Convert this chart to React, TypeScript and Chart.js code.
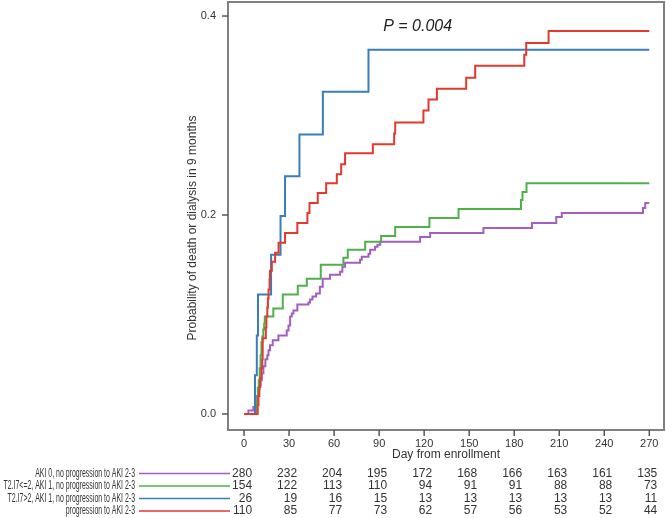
import React, { useEffect, useRef } from "react";
import { Chart, registerables } from "chart.js";
Chart.register(...registerables);

// ---- Data ----
const xTickValues = [0, 30, 60, 90, 120, 150, 180, 210, 240, 270];
const yTickValues = [0, 0.2, 0.4];
const yTickLabels = ["0.0", "0.2", "0.4"];
const xTitle = "Day from enrollment";
const yTitle = "Probability of death or dialysis in 9 months";
const pValueText = "P = 0.004";

const groupLabels = [
  "AKI 0, no progression to AKI 2-3",
  "T2.I7<=2, AKI 1, no progression to AKI 2-3",
  "T2.I7>2, AKI 1, no progression to AKI 2-3",
  "progression to AKI 2-3",
];
const groupColors = ["#a15fc0", "#4fb04b", "#3a7dbd", "#e2392f"];

// number at risk at each x tick
const atRiskAKI0 = [280, 232, 204, 195, 172, 168, 166, 163, 161, 135];
const atRiskLow = [154, 122, 113, 110, 94, 91, 91, 88, 88, 73];
const atRiskHigh = [26, 19, 16, 15, 13, 13, 13, 13, 13, 11];
const atRiskProg = [110, 85, 77, 73, 62, 57, 56, 53, 52, 44];

// step curves: event day / cumulative probability
const aki0Days = [0, 2.9, 6.2, 8, 8.7, 9.5, 10.2, 11, 11.8, 12.9, 14.2, 15.5, 16.3, 17.3, 19.1, 22.9, 28.4, 29.6, 30.7, 31.8, 32.9, 35.5, 42.9, 44, 45.6, 48, 50.5, 52.4, 57.3, 64, 65.5, 67.3, 77.3, 78.4, 82.9, 84, 87.3, 88.9, 90.7, 117.3, 124, 159.5, 191.8, 208, 211.7, 265.8, 267.3, 270];
const aki0Prob = [0, 0.0036, 0.0071, 0.011, 0.018, 0.025, 0.029, 0.034, 0.041, 0.048, 0.055, 0.059, 0.064, 0.069, 0.074, 0.079, 0.084, 0.089, 0.098, 0.101, 0.104, 0.110, 0.112, 0.115, 0.118, 0.121, 0.128, 0.136, 0.140, 0.143, 0.148, 0.152, 0.155, 0.158, 0.161, 0.165, 0.168, 0.170, 0.173, 0.178, 0.182, 0.187, 0.192, 0.198, 0.202, 0.207, 0.212, 0.212];

const lowDays = [0, 8, 8.6, 9.2, 9.8, 10.4, 11, 11.6, 12.2, 12.8, 13.4, 13.8, 19.5, 25.8, 35.8, 41.8, 51.1, 66.2, 69.1, 80.7, 91.3, 100.7, 123.5, 142.9, 184.5, 185.5, 188.2, 270];
const lowProb = [0, 0.0065, 0.013, 0.026, 0.034, 0.046, 0.059, 0.072, 0.078, 0.085, 0.091, 0.098, 0.106, 0.120, 0.129, 0.136, 0.150, 0.157, 0.165, 0.173, 0.179, 0.188, 0.197, 0.206, 0.215, 0.223, 0.232, 0.232];

const highDays = [0, 7.3, 8.5, 9.3, 18, 24.3, 27.3, 36.9, 52.5, 82.9, 270];
const highProb = [0, 0.039, 0.079, 0.120, 0.160, 0.199, 0.239, 0.281, 0.324, 0.366, 0.366];

const progDays = [0, 9.1, 9.6, 10.2, 10.8, 11.5, 12.1, 12.4, 14.5, 14.9, 15.5, 15.9, 16.3, 17, 17.3, 18.5, 20.7, 23, 27.3, 35.5, 42.2, 43.6, 49.1, 54.7, 61.8, 64.7, 67.3, 85.8, 100, 100.7, 119.5, 122.9, 128.5, 148, 154, 186.7, 188, 202.9, 270];
const progProb = [0, 0.009, 0.018, 0.027, 0.036, 0.046, 0.055, 0.076, 0.087, 0.098, 0.107, 0.116, 0.125, 0.135, 0.144, 0.153, 0.162, 0.172, 0.182, 0.192, 0.202, 0.212, 0.222, 0.232, 0.241, 0.251, 0.262, 0.271, 0.282, 0.293, 0.305, 0.316, 0.327, 0.338, 0.350, 0.361, 0.373, 0.385, 0.385];

const seriesDays = [aki0Days, lowDays, highDays, progDays];
const seriesProb = [aki0Prob, lowProb, highProb, progProb];
const atRiskRows = [atRiskAKI0, atRiskLow, atRiskHigh, atRiskProg];

const FONT = "'Liberation Sans', Arial, sans-serif";

const decorPlugin = {
  id: "kmDecor",
  afterDraw(chart: any) {
    const { ctx, chartArea, scales } = chart;
    const xs = scales.x;
    const ys = scales.y;
    ctx.save();
    ctx.strokeStyle = "#808080";
    ctx.lineWidth = 2;
    ctx.strokeRect(chartArea.left, chartArea.top, chartArea.right - chartArea.left, chartArea.bottom - chartArea.top);

    // x ticks
    ctx.lineWidth = 1.5;
    ctx.strokeStyle = "#555";
    ctx.fillStyle = "#333";
    ctx.font = `11px ${FONT}`;
    ctx.textAlign = "center";
    ctx.textBaseline = "middle";
    xTickValues.forEach((v) => {
      const px = xs.getPixelForValue(v);
      ctx.beginPath();
      ctx.moveTo(px, chartArea.bottom);
      ctx.lineTo(px, chartArea.bottom + 6);
      ctx.stroke();
      ctx.fillText(String(v), px, chartArea.bottom + 14);
    });
    // y ticks
    ctx.textAlign = "right";
    yTickValues.forEach((v, i) => {
      const py = ys.getPixelForValue(v);
      ctx.beginPath();
      ctx.moveTo(chartArea.left - 6, py);
      ctx.lineTo(chartArea.left, py);
      ctx.stroke();
      ctx.fillText(yTickLabels[i], chartArea.left - 12, py);
    });
    // titles
    ctx.font = `12px ${FONT}`;
    ctx.fillStyle = "#333";
    ctx.textAlign = "center";
    ctx.fillText(xTitle, (chartArea.left + chartArea.right) / 2, chartArea.bottom + 25);
    ctx.save();
    ctx.translate(193, 228);
    ctx.rotate(-Math.PI / 2);
    ctx.fillText(yTitle, 0, 0);
    ctx.restore();

    // p value
    ctx.font = `italic 16px ${FONT}`;
    ctx.fillStyle = "#222";
    ctx.textAlign = "left";
    ctx.fillText(pValueText, xs.getPixelForValue(92.7), ys.getPixelForValue(0.3899));

    // risk table
    const rowY = [473.5, 486, 498.5, 511];
    atRiskRows.forEach((row, r) => {
      const y = rowY[r];
      ctx.font = `12px ${FONT}`;
      ctx.fillStyle = "#333";
      ctx.textAlign = "right";
      const w = ctx.measureText(groupLabels[r]).width;
      ctx.fillText(groupLabels[r], 135, y, w * 0.58);
      ctx.strokeStyle = groupColors[r];
      ctx.lineWidth = 1.6;
      ctx.beginPath();
      ctx.moveTo(139, y);
      ctx.lineTo(230, y);
      ctx.stroke();
      row.forEach((n, i) => {
        const px = xs.getPixelForValue(xTickValues[i]) + 8;
        ctx.fillText(String(n), px, y);
      });
    });
    ctx.restore();
  },
};

export default function App() {
  const ref = useRef<HTMLCanvasElement | null>(null);
  useEffect(() => {
    if (!ref.current) return;
    const order = [3, 2, 1, 0];
    const chart = new Chart(ref.current, {
      type: "line",
      data: {
        datasets: seriesDays.map((days, s) => ({
          label: groupLabels[s],
          data: days.map((d, i) => ({ x: d, y: seriesProb[s][i] })),
          borderColor: groupColors[s],
          backgroundColor: groupColors[s],
          borderWidth: 2,
          pointRadius: 0,
          stepped: "before" as const,
          fill: false,
          order: order[s],
        })),
      },
      options: {
        responsive: false,
        animation: false,
        events: [],
        layout: { padding: { left: 228, top: 2, right: 2, bottom: 88 } },
        plugins: { legend: { display: false }, tooltip: { enabled: false } },
        scales: {
          x: { type: "linear", display: false, min: -10.7, max: 279.8 },
          y: { type: "linear", display: false, min: -0.0161, max: 0.4141 },
        },
      },
      plugins: [decorPlugin],
    });
    return () => chart.destroy();
  }, []);
  return (
    <div style={{ position: "absolute", left: 0, top: 0, width: 666, height: 518, background: "#fff" }}>
      <canvas ref={ref} width={666} height={518} style={{ width: 666, height: 518, display: "block" }} />
    </div>
  );
}
